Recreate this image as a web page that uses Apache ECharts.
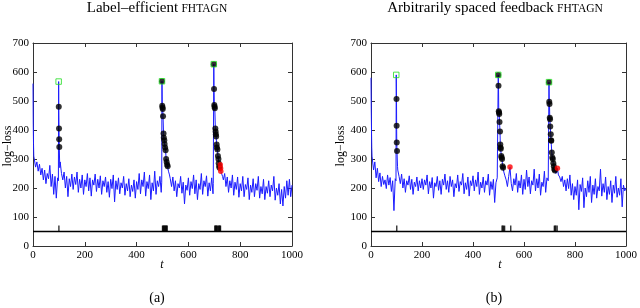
<!DOCTYPE html>
<html><head><meta charset="utf-8">
<script src="https://cdn.jsdelivr.net/npm/echarts@6/dist/echarts.min.js"></script>
<style>html,body{margin:0;padding:0;background:#fff}#c{width:640px;height:308px}</style>
</head><body><div id="c"></div>
<script>
// ---------- data (a) Label-efficient ----------
// base log-loss samples every 5 steps, t = 0..1000
const lossA = [
 560,300,272,290,258,282,245,268,228,262,215,250,232,278,205,248,178,240,165,235,
 420,290,250,228,255,200,240,170,232,205,248,195,238,212,255,185,230,200,245,178,
 228,205,250,190,235,172,228,210,248,188,230,200,242,178,225,205,238,185,222,168,
 230,198,245,152,225,195,235,180,218,200,240,175,215,190,232,170,210,188,228,165,
 222,195,250,180,228,205,255,172,222,198,245,160,218,190,258,178,225,205,240,185,
 480,370,335,290,272,258,232,205,238,190,225,170,215,200,240,182,220,145,210,192,
 235,175,222,198,245,180,228,160,215,195,250,178,225,205,242,172,218,190,235,180,
 486,395,340,305,270,258,245,228,250,205,238,185,225,200,245,175,220,195,238,168,
 215,190,240,170,212,195,235,160,210,185,232,170,215,192,240,165,205,180,230,160,
 205,182,225,170,210,190,240,158,200,175,215,145,195,138,205,165,225,175,230,170,
 210
];
// finer samples around the change points [t, loss]
const spikesA = [
 [[0,560],[1,420],[2,350],[3,310]],
 [[98,225],[99,567],[99.5,480],[100.5,405],[101,368],[101.5,341],[102.5,300],[103.5,270]],
 [[497,220],[498,568],[499,484],[500,478],[501,472],[502,447],[504,388],[505,373],[507,365],[508,352],[510,340],[512,330],[514,300],[516,290],[518,280],[520,275],[523,258],[527,245]],
 [[696,215],[698,627],[699,541],[700,486],[701,480],[702,475],[704,405],[705,395],[706,385],[707,378],[709,350],[710,340],[712,333],[714,310],[716,300],[717,285],[719,275],[720,270],[723,280],[724,268],[725,258],[728,250],[732,240]]
];
const dotsA = [[99.5,480],[100.5,405],[101,368],[101.5,341],
 [498,568],[499,484],[500,478],[501,472],[502,447],[504,388],[505,373],[507,365],[508,352],[510,340],[512,330],[514,300],[516,290],[518,280],[520,275],
 [698,627],[699,541],[700,486],[701,480],[702,475],[704,405],[705,395],[706,385],[707,378],[709,350],[710,340],[712,333],[714,310],[716,300],[717,285],[719,275],[720,270]];
const alarmsA = [[99,567],[498,568],[698,627]];
const redA = [[723,280],[724,268],[725,258]];
const queriesA = [100,500,502,504,506,508,510,512,514,516,518,702,704,706,708,710,712,716,718,720,722,724];

// ---------- data (b) Arbitrarily spaced feedback ----------
const lossB = [
 580,305,262,290,235,268,222,252,205,240,212,228,198,245,210,236,188,225,122,232,
 450,262,240,215,248,200,232,185,225,210,242,195,230,178,220,205,238,190,225,200,
 232,195,228,210,245,180,222,200,236,165,218,205,240,192,225,178,230,210,248,195,
 225,185,240,205,228,170,215,200,245,188,222,210,250,180,218,195,238,172,225,208,
 242,190,228,205,255,178,220,200,238,185,225,210,248,175,222,195,230,150,218,235,
 480,400,330,290,265,242,228,205,240,272,215,190,232,210,250,185,225,200,245,178,
 230,195,262,205,238,180,225,210,265,190,232,200,248,175,220,205,258,185,235,215,
 490,385,310,285,262,250,268,245,238,222,240,205,228,190,232,198,245,175,215,160,
 205,175,228,125,212,188,235,132,200,170,225,185,240,150,210,178,232,165,205,190,
 265,172,215,185,238,160,205,178,225,150,210,182,240,168,200,175,232,135,210,190,
 200
];
const spikesB = [
 [[0,580],[1,470],[2,400],[3,340],[4,310]],
 [[98,225],[99,590],[100,507],[100.5,415],[101,357],[102,328],[103,300],[104,275]],
 [[497,230],[499,590],[500,553],[501,465],[502,460],[503,455],[504,428],[506,395],[507,350],[508,340],[509,335],[511,310],[512,305],[514,300],[516,275],[518,270],[521,255],[525,242]],
 [[695,225],[698,565],[699,497],[700,490],[701,442],[702,437],[703,412],[705,385],[706,365],[707,363],[709,322],[711,305],[713,300],[715,285],[717,275],[719,265],[721,260],[725,250],[731,268],[735,245],[740,238]]
];
const dotsB = [[100,507],[100.5,415],[101,357],[102,328],
 [499,590],[500,553],[501,465],[502,460],[503,455],[504,428],[506,395],[507,350],[508,340],[509,335],[511,310],[512,305],[514,300],[516,275],[518,270],
 [698,565],[699,497],[700,490],[701,442],[702,437],[703,412],[705,385],[706,365],[707,363],[709,322],[711,305],[713,300],[715,285],[717,275],[719,265],[721,260]];
const alarmsB = [[99,590],[499,590],[698,565]];
const redB = [[545,272],[731,268]];
const queriesB = [101,514,517,520,524,548,719,722,725,730];

const yTicks = [0,100,200,300,400,500,600,700];
const xTicks = [0,200,400,600,800,1000];
const queryLevel = 60;   // query marks sit between 50 and 70
const baseLevel = 50;

// ---------- build ----------
function buildLine(base, groups){
  const pts = [];
  base.forEach((v,i)=>{
    const t = i*5;
    if(!groups.some(g=>t>=g[0][0] && t<=g[g.length-1][0])) pts.push([t,v]);
  });
  groups.forEach(g=>g.forEach(p=>pts.push(p)));
  pts.sort((a,b)=>a[0]-b[0]);
  return pts;
}
const SERIF = '"Liberation Serif","DejaVu Serif",serif';
const AX = '#333';
function xAx(gi, top){
  return {type:'value', gridIndex:gi, min:xTicks[0], max:xTicks[xTicks.length-1], interval:200,
    position: top?'top':'bottom',
    axisLine:{show:true, onZero:false, lineStyle:{color:AX,width:1}},
    axisTick:{show:true, inside:true, length:4, lineStyle:{color:AX}},
    axisLabel:{show:!top, color:'#000', fontFamily:SERIF, fontSize:11, margin:4, formatter:v=>String(v)},
    splitLine:{show:false}};
}
function yAx(gi, right){
  return {type:'value', gridIndex:gi, min:yTicks[0], max:yTicks[yTicks.length-1], interval:100,
    position: right?'right':'left',
    axisLine:{show:true, onZero:false, lineStyle:{color:AX,width:1}},
    axisTick:{show:true, inside:true, length:4, lineStyle:{color:AX}},
    axisLabel:{show:!right, color:'#000', fontFamily:SERIF, fontSize:11, margin:4, formatter:v=>String(v)},
    splitLine:{show:false}};
}
function panelSeries(xi, yi, base, groups, dots, alarms, reds, queries){
  return [
    {type:'line', xAxisIndex:xi, yAxisIndex:yi, data:buildLine(base, groups), showSymbol:false,
      lineStyle:{color:'#1a1aff', width:1}, z:2, animation:false},
    {type:'scatter', xAxisIndex:xi, yAxisIndex:yi, data:queries.map(t=>[t,queryLevel]),
      symbol:'rect', symbolSize:[1.4,6], itemStyle:{color:'#000'}, z:3, animation:false,
      markLine:{symbol:'none', silent:true, animation:false, label:{show:false},
        lineStyle:{color:'#000', width:1.3, type:'solid'}, data:[{yAxis:baseLevel}]}},
    {type:'scatter', xAxisIndex:xi, yAxisIndex:yi, data:dots, symbol:'circle', symbolSize:6,
      itemStyle:{color:'#000'}, z:4, animation:false},
    {type:'scatter', xAxisIndex:xi, yAxisIndex:yi, data:alarms, symbol:'rect', symbolSize:5.5,
      itemStyle:{color:'rgba(0,0,0,0)', borderColor:'#22dd22', borderWidth:1}, z:5, animation:false},
    {type:'scatter', xAxisIndex:xi, yAxisIndex:yi, data:reds, symbol:'circle', symbolSize:5.5,
      itemStyle:{color:'#ff0000'}, z:5, animation:false}
  ];
}
const chart = echarts.init(document.getElementById('c'), null, {renderer:'canvas'});
const txt = (x,y,text,size,extra)=>Object.assign({type:'text', x, y, silent:true,
  style:Object.assign({text, fill:'#000', font:`${size}px ${SERIF}`, textAlign:'center', textVerticalAlign:'middle'}, extra||{})});
const titleRich = {
  a:{fontFamily:SERIF, fontSize:15, color:'#000', verticalAlign:'bottom'},
  b:{fontFamily:SERIF, fontSize:11.5, color:'#000', verticalAlign:'bottom', padding:[0,0,1,0]}
};
chart.setOption({
  animation:false,
  grid:[{left:33, top:43, width:259, height:203},{left:371, top:43, width:260, height:203}],
  xAxis:[xAx(0,false), xAx(0,true), xAx(1,false), xAx(1,true)],
  yAxis:[yAx(0,false), yAx(0,true), yAx(1,false), yAx(1,true)],
  series:[
    ...panelSeries(0,0,lossA,spikesA,dotsA,alarmsA,redA,queriesA),
    ...panelSeries(2,2,lossB,spikesB,dotsB,alarmsB,redB,queriesB)
  ],
  graphic:[
    {type:'text', x:157, y:8, silent:true, style:{text:'{a|Label–efficient} {b|FHTAGN}', rich:titleRich, textAlign:'center', textVerticalAlign:'middle'}},
    {type:'text', x:495, y:8, silent:true, style:{text:'{a|Arbitrarily spaced feedback} {b|FHTAGN}', rich:titleRich, textAlign:'center', textVerticalAlign:'middle'}},
    txt(162,265,'t',12,{font:`italic 12px ${SERIF}`}),
    txt(500,265,'t',12,{font:`italic 12px ${SERIF}`}),
    Object.assign(txt(8,146,'log−loss',12),{rotation:Math.PI/2}),
    Object.assign(txt(341,146,'log−loss',12),{rotation:Math.PI/2}),
    txt(157,298,'(a)',14),
    txt(494,298,'(b)',14)
  ]
});
</script></body></html>
